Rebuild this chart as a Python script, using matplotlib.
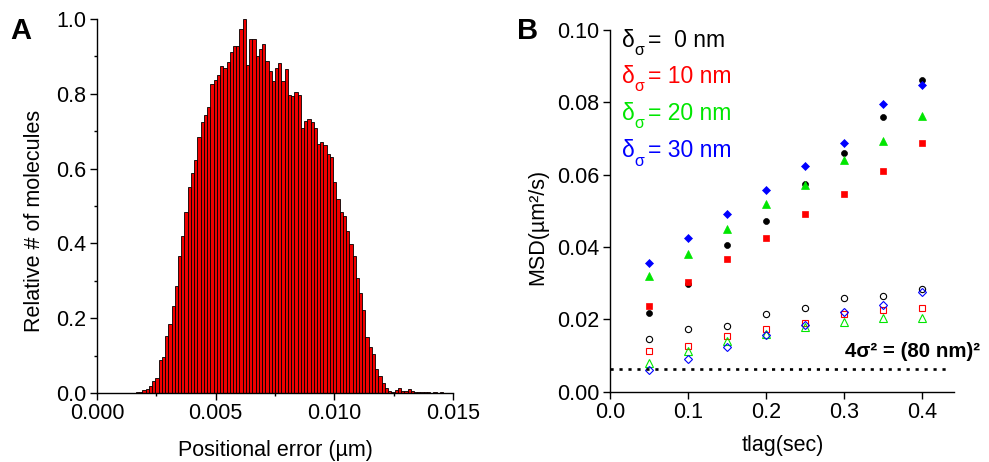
import numpy as np
import matplotlib
matplotlib.use("Agg")
import matplotlib.pyplot as plt
from matplotlib.ticker import MultipleLocator, FormatStrFormatter

plt.rcParams['font.family'] = ['Liberation Sans', 'DejaVu Sans']
plt.rcParams['mathtext.fontset'] = 'custom'
plt.rcParams['mathtext.rm'] = 'Liberation Sans'
plt.rcParams['mathtext.it'] = 'Liberation Sans:italic'
plt.rcParams['mathtext.bf'] = 'Liberation Sans:bold'

# ---------------- Panel A data (histogram) ----------------
bin_start = 0.001643   # um, left edge of first bin
bin_width = 0.0001362  # um
rel_counts = [0.002, 0.004, 0.007, 0.010, 0.020, 0.031, 0.040, 0.087, 0.096, 0.153,
              0.184, 0.233, 0.287, 0.367, 0.420, 0.483, 0.551, 0.588, 0.622, 0.685,
              0.724, 0.742, 0.764, 0.825, 0.838, 0.851, 0.873, 0.869, 0.885, 0.912,
              0.927, 0.929, 0.973, 1.000, 0.877, 0.947, 0.947, 0.900, 0.920, 0.933,
              0.888, 0.861, 0.835, 0.869, 0.882, 0.835, 0.865, 0.797, 0.793, 0.805,
              0.796, 0.709, 0.728, 0.733, 0.725, 0.709, 0.667, 0.671, 0.662, 0.639,
              0.631, 0.565, 0.519, 0.484, 0.472, 0.433, 0.398, 0.365, 0.307, 0.267,
              0.223, 0.149, 0.122, 0.104, 0.064, 0.046, 0.028, 0.014, 0.006, 0.004,
              0.008, 0.013, 0.006, 0.005, 0.010, 0.006, 0.004, 0.004, 0.003, 0.002,
              0.002, 0.001, 0.002, 0.001, 0.002, 0.001, 0.001]

# ---------------- Panel B data (MSD) ----------------
tlag = [0.05, 0.10, 0.15, 0.20, 0.25, 0.30, 0.35, 0.40]
# filled symbols
msd_0nm = [0.0218, 0.0299, 0.0406, 0.0471, 0.0573, 0.0661, 0.0759, 0.0863]
msd_10nm = [0.0237, 0.0304, 0.0367, 0.0426, 0.0492, 0.0547, 0.0611, 0.0688]
msd_20nm = [0.0319, 0.0382, 0.0451, 0.0519, 0.0571, 0.0641, 0.0694, 0.0762]
msd_30nm = [0.0357, 0.0425, 0.0492, 0.0559, 0.0625, 0.0687, 0.0796, 0.0849]
# open symbols
msd_0nm_open = [0.0145, 0.0172, 0.0183, 0.0214, 0.0232, 0.0258, 0.0265, 0.0284]
msd_10nm_open = [0.0112, 0.0126, 0.0155, 0.0173, 0.0190, 0.0214, 0.0226, 0.0232]
msd_20nm_open = [0.0078, 0.0112, 0.0139, 0.0159, 0.0180, 0.0192, 0.0205, 0.0205]
msd_30nm_open = [0.0059, 0.0091, 0.0124, 0.0157, 0.0184, 0.0220, 0.0239, 0.0276]
noise_floor = 0.0064  # (80 nm)^2 in um^2
legend_values = [' 0 nm', '10 nm', '20 nm', '30 nm']
series_colors = ['#000000', '#ff0000', '#00e600', '#0000ff']
series_markers = ['o', 's', '^', 'D']
marker_sizes = [4.3, 4.2, 5.3, 4.0]
open_marker_sizes = [4.5, 4.4, 5.4, 4.2]

W, H = 989, 462
fig = plt.figure(figsize=(W / 100, H / 100), dpi=100)

def px_axes(l, r, t, b):
    return fig.add_axes([l / W, 1 - b / H, (r - l) / W, (b - t) / H])

tick_fs = 15.5
label_fs = 15.5

# ---------------- Panel A ----------------
axA = px_axes(97, 453, 19, 393)
edges = bin_start + np.arange(len(rel_counts)) * bin_width
axA.bar(edges, rel_counts, width=bin_width, align='edge', color='#f00000',
        edgecolor='black', linewidth=0.6)
axA.set_xlim(0, 0.015)
axA.set_ylim(0, 1.0)
axA.xaxis.set_major_locator(MultipleLocator(0.005))
axA.xaxis.set_minor_locator(MultipleLocator(0.0025))
axA.yaxis.set_major_locator(MultipleLocator(0.2))
axA.yaxis.set_minor_locator(MultipleLocator(0.1))
axA.xaxis.set_major_formatter(FormatStrFormatter('%.3f'))
axA.yaxis.set_major_formatter(FormatStrFormatter('%.1f'))

# ---------------- Panel B ----------------
axB = px_axes(610, 954, 30, 391.7)
for vals, c, m, ms in zip([msd_0nm, msd_10nm, msd_20nm, msd_30nm],
                          series_colors, series_markers, marker_sizes):
    axB.plot(tlag, vals, linestyle='none', marker=m, ms=ms, color=c, mec=c, mew=0.5,
             clip_on=False)
for vals, c, m, ms in zip([msd_0nm_open, msd_10nm_open, msd_20nm_open, msd_30nm_open],
                          series_colors, series_markers, open_marker_sizes):
    axB.plot(tlag, vals, linestyle='none', marker=m, ms=ms, mfc='none', mec=c, mew=0.8,
             clip_on=False)
axB.plot([0, 0.431], [noise_floor, noise_floor], color='black', lw=1.9,
         dashes=(1.2, 2.2))
axB.set_xlim(0, 0.4405)
axB.set_ylim(0, 0.10)
axB.xaxis.set_major_locator(MultipleLocator(0.1))
axB.yaxis.set_major_locator(MultipleLocator(0.02))
axB.xaxis.set_major_formatter(FormatStrFormatter('%.1f'))
axB.yaxis.set_major_formatter(FormatStrFormatter('%.2f'))

for ax in (axA, axB):
    for s in ('top', 'right'):
        ax.spines[s].set_visible(False)
    for s in ('left', 'bottom'):
        ax.spines[s].set_linewidth(1.0)
    ax.tick_params(which='major', direction='out', length=5, width=1.0,
                   labelsize=tick_fs, pad=2.5)
    ax.tick_params(which='minor', direction='out', length=2.5, width=1.0)

# legend-like coloured text: delta with low subscript sigma
baselines_px = [46.7, 82.7, 120, 157.3]
for val, c, ypx in zip(legend_values, series_colors, baselines_px):
    fig.text(621.7 / W, 1 - ypx / H, 'δ', color=c, fontsize=16.5,
             ha='left', va='baseline')
    fig.text(634.0 / W, 1 - (ypx + 8.3) / H, 'σ', color=c, fontsize=11.5,
             ha='left', va='baseline')
    fig.text(648.5 / W, 1 - ypx / H, '= ' + val, color=c, fontsize=16.5,
             ha='left', va='baseline')

fig.text(845 / W, 1 - 357.3 / H, '4σ² = (80 nm)²', fontsize=14.8,
         fontweight='bold', ha='left', va='baseline')

# axis labels
fig.text(35 / W, 1 - 221 / H, 'Relative # of molecules', rotation=90,
         fontsize=label_fs, ha='center', va='center')
fig.text(275 / W, 1 - 450.5 / H, 'Positional error (µm)', fontsize=label_fs,
         ha='center', va='center')
fig.text(537.5 / W, 1 - 227 / H, 'MSD(µm²/s)', rotation=90,
         fontsize=label_fs, ha='center', va='center')
fig.text(783 / W, 1 - 446 / H, 'tlag(sec)', fontsize=label_fs,
         ha='center', va='center')

# panel letters
fig.text(10 / W, 1 - 39 / H, 'A', fontsize=21, fontweight='bold',
         ha='left', va='baseline')
fig.text(516.7 / W, 1 - 39 / H, 'B', fontsize=21, fontweight='bold',
         ha='left', va='baseline')

fig.savefig('out.png', dpi=100)
